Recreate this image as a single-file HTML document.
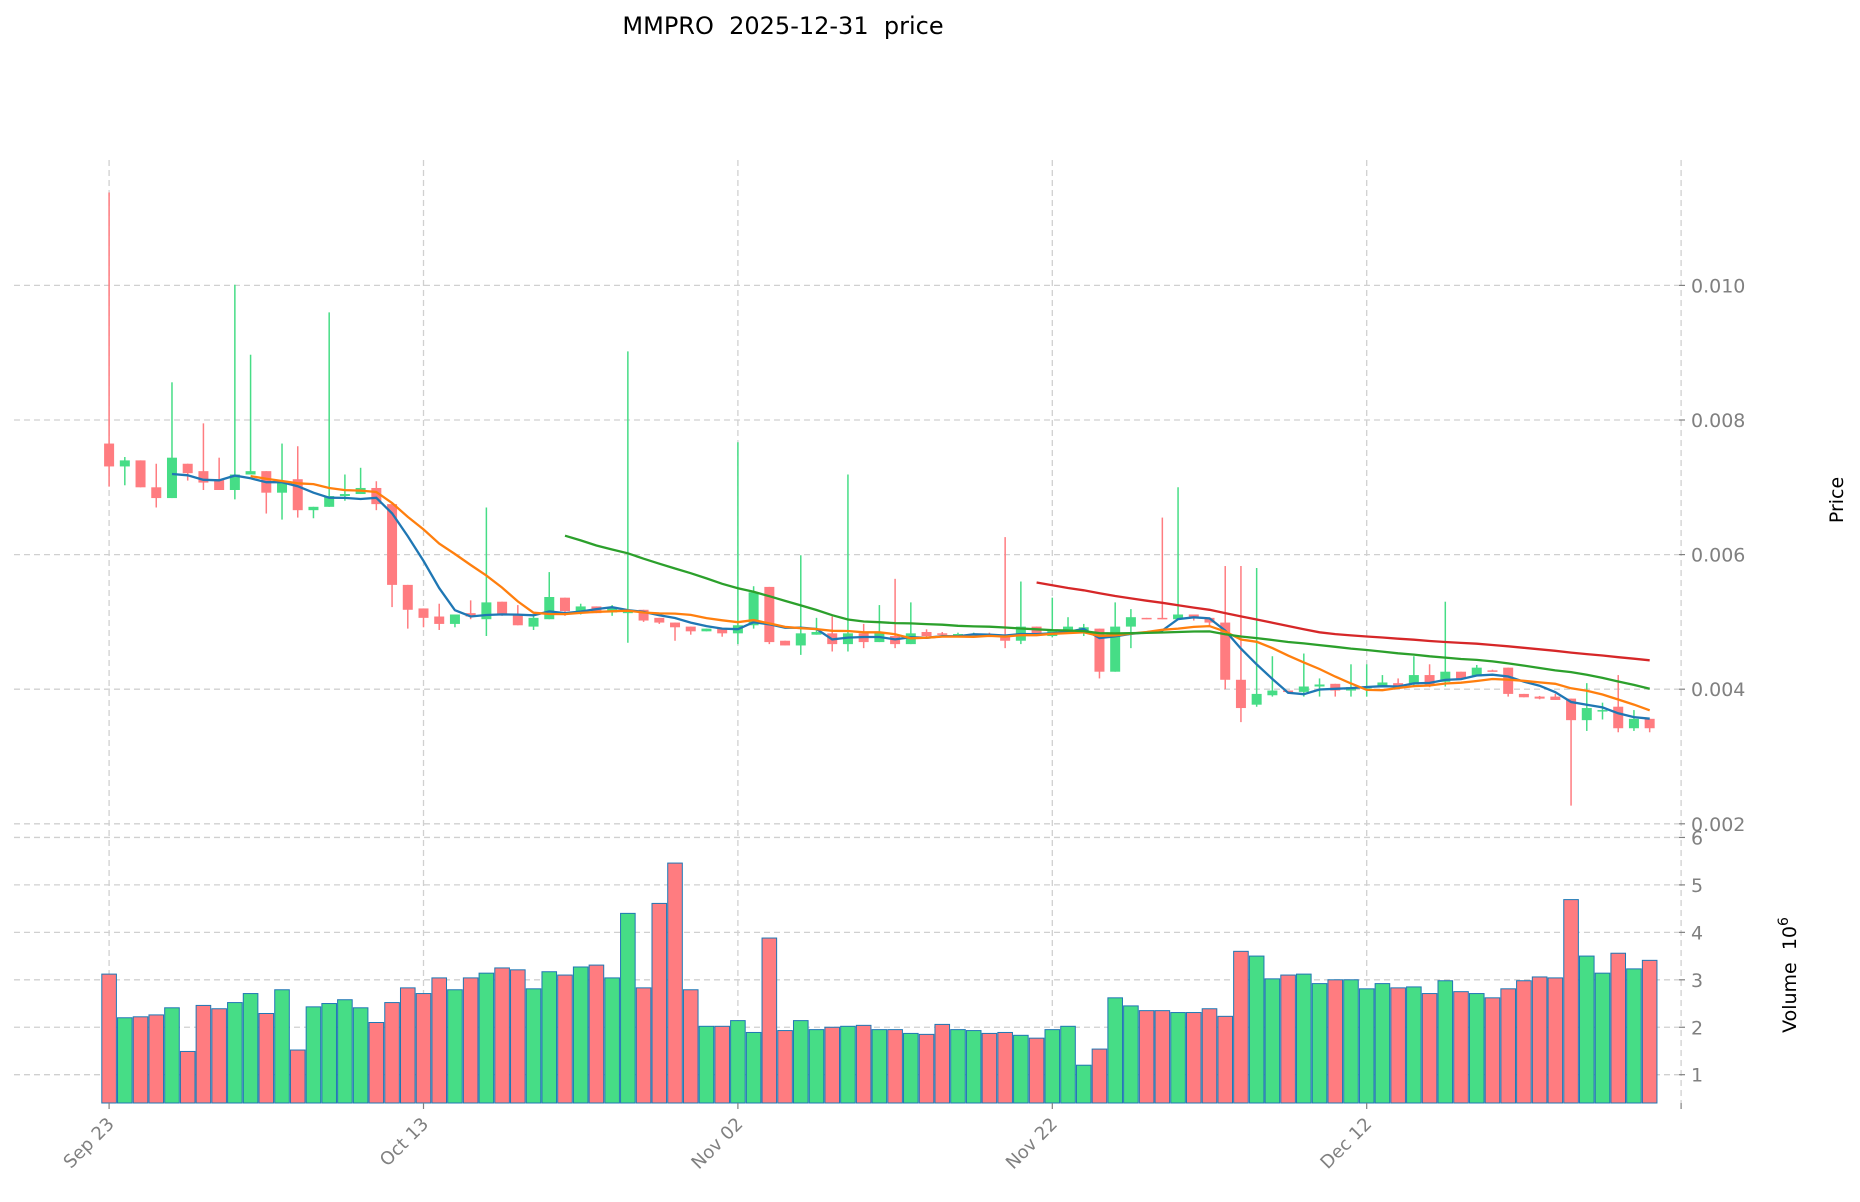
<!DOCTYPE html>
<html><head><meta charset="utf-8"><title>MMPRO price</title>
<style>
html,body{margin:0;padding:0;background:#fff;}
svg{display:block;font-family:"DejaVu Sans","Liberation Sans",sans-serif;}
</style></head>
<body>
<svg id="chart" width="1860" height="1202" viewBox="0 0 1860 1202" xmlns="http://www.w3.org/2000/svg">
<text x="783" y="34" font-size="24" text-anchor="middle" fill="#000" xml:space="preserve" style="white-space:pre">MMPRO  2025-12-31  price</text>
<g id="grid"></g>
<g id="vol"></g>
<g id="candles"></g>
<g id="mas"></g>
<g id="axes"></g>
<text transform="translate(1843,500) rotate(-90)" font-size="19" text-anchor="middle" fill="#000">Price</text>
<text transform="translate(1796,975) rotate(-90)" font-size="19" text-anchor="middle" fill="#000" xml:space="preserve" style="white-space:pre">Volume  10<tspan dy="-8" font-size="14">6</tspan></text>
</svg>
<script>
const opens  = [.00765,.00731,.00740,.00700,.00684,.00735,.00724,.00712,.00696,.00719,.00724,.00692,.00712,.00666,.00671,.00687,.00690,.00699,.00675,.00555,.00520,.00508,.00497,.00513,.00504,.00530,.00511,.00493,.00504,.00536,.00515,.00523,.00514,.00513,.00518,.00506,.00499,.00493,.00486,.00490,.00483,.00495,.00552,.00472,.00465,.00481,.00483,.00467,.00483,.00470,.00479,.00467,.00485,.00483,.00482,.00482,.00482,.00481,.00472,.00493,.00479,.00488,.00486,.00490,.00426,.00493,.00506,.00506,.00504,.00511,.00506,.00499,.00414,.00377,.00391,.00398,.00396,.00404,.00408,.00398,.00401,.00405,.00409,.00407,.00421,.00411,.00426,.00419,.00428,.00432,.00393,.00389,.00389,.00386,.00354,.00367,.00374,.00342,.00356];
const closes = [.00731,.00740,.00700,.00684,.00744,.00721,.00707,.00696,.00719,.00724,.00692,.00707,.00666,.00671,.00687,.00690,.00699,.00675,.00555,.00518,.00506,.00497,.00511,.00508,.00529,.00511,.00495,.00506,.00537,.00516,.00523,.00513,.00520,.00516,.00502,.00499,.00492,.00486,.00490,.00483,.00495,.00544,.00470,.00465,.00483,.00485,.00467,.00483,.00470,.00483,.00467,.00483,.00479,.00482,.00482,.00482,.00481,.00472,.00493,.00481,.00488,.00493,.00492,.00426,.00493,.00507,.00505,.00505,.00511,.00506,.00499,.00414,.00372,.00393,.00398,.00396,.00404,.00407,.00398,.00403,.00404,.00410,.00405,.00421,.00407,.00426,.00416,.00432,.00427,.00393,.00388,.00386,.00384,.00354,.00372,.00369,.00342,.00356,.00342];
const highs  = [.01138,.00745,.00740,.00735,.00856,.00735,.00795,.00744,.01001,.00897,.00724,.00765,.00761,.00671,.00960,.00719,.00729,.00709,.00675,.00555,.00520,.00527,.00511,.00532,.00670,.00530,.00525,.00509,.00574,.00536,.00527,.00523,.00525,.00902,.00518,.00506,.00499,.00493,.00490,.00490,.00767,.00553,.00552,.00472,.00599,.00506,.00508,.00719,.00497,.00525,.00564,.00529,.00489,.00485,.00484,.00484,.00484,.00626,.00560,.00493,.00536,.00507,.00497,.00490,.00529,.00519,.00506,.00655,.00700,.00511,.00506,.00583,.00583,.00580,.00449,.00398,.00453,.00416,.00408,.00437,.00437,.00421,.00416,.00449,.00437,.00530,.00426,.00436,.00429,.00432,.00393,.00390,.00393,.00386,.00409,.00380,.00421,.00369,.00356];
const lows   = [.00701,.00703,.00700,.00670,.00684,.00710,.00696,.00696,.00682,.00719,.00661,.00652,.00655,.00654,.00671,.00680,.00690,.00666,.00522,.00490,.00492,.00488,.00492,.00504,.00479,.00509,.00495,.00488,.00504,.00509,.00511,.00513,.00509,.00469,.00500,.00497,.00472,.00481,.00486,.00478,.00467,.00490,.00467,.00465,.00451,.00481,.00456,.00456,.00461,.00470,.00461,.00467,.00476,.00480,.00480,.00480,.00479,.00461,.00467,.00481,.00477,.00488,.00479,.00416,.00426,.00461,.00504,.00504,.00504,.00502,.00494,.00400,.00351,.00374,.00389,.00394,.00389,.00389,.00389,.00389,.00389,.00403,.00405,.00403,.00403,.00404,.00416,.00419,.00427,.00389,.00388,.00385,.00384,.00227,.00338,.00355,.00336,.00338,.00336];
const volumes = [3.12,2.20,2.22,2.26,2.41,1.49,2.46,2.39,2.52,2.71,2.29,2.79,1.52,2.43,2.50,2.58,2.41,2.10,2.52,2.83,2.71,3.04,2.79,3.04,3.14,3.25,3.21,2.81,3.17,3.10,3.27,3.31,3.04,4.40,2.83,4.61,5.46,2.79,2.02,2.02,2.14,1.89,3.88,1.93,2.14,1.95,2.00,2.02,2.04,1.95,1.95,1.87,1.85,2.06,1.95,1.93,1.87,1.89,1.83,1.77,1.95,2.02,1.20,1.54,2.62,2.45,2.35,2.35,2.31,2.31,2.39,2.23,3.60,3.50,3.02,3.10,3.12,2.92,3.00,3.00,2.81,2.92,2.83,2.85,2.71,2.98,2.75,2.71,2.62,2.81,2.98,3.06,3.04,4.69,3.50,3.14,3.56,3.23,3.41];
const xTickLabels = ["Sep 23","Oct 13","Nov 02","Nov 22","Dec 12"];
const priceTicks = [0.010,0.008,0.006,0.004,0.002];
const volTicks = [1,2,3,4,5,6];
const maPeriods = [5,10,30,60];
const maColors = ["#1f77b4","#ff7f0e","#2ca02c","#d62728"];

const NS="http://www.w3.org/2000/svg";
const X0=109.1, DX=15.72, PLEFT=14, PRIGHT=1679;
const xS=i=>X0+DX*i;
const yP=p=>689.2-(p-0.004)/0.002*134.6;
const yV=v=>1074.7-(v-1)*47.45;
const VBOT=1103, PTOP=160, PBOT=830;
const UP="#46dd86", DOWN="#ff7c80";
function mk(tag,attrs,parent){const e=document.createElementNS(NS,tag);for(const k in attrs)e.setAttribute(k,attrs[k]);parent.appendChild(e);return e;}
const grid=document.getElementById('grid'), axes=document.getElementById('axes');
priceTicks.forEach(p=>{
  const y=yP(p);
  const l=mk('line',{x1:PLEFT,x2:PRIGHT,y1:y,y2:y,stroke:"#d0d0d0","stroke-width":1.3,"stroke-dasharray":"6,4"},grid);
  
  
  mk('line',{x1:PRIGHT,x2:PRIGHT+6,y1:y,y2:y,stroke:"#808080","stroke-width":1.2},axes);
  const t=mk('text',{x:PRIGHT+12,y:y+7,"font-size":19,fill:"#808080"},axes);
  t.textContent=p.toFixed(3);
  
  
});
volTicks.forEach(v=>{
  const y=yV(v);
  const l=mk('line',{x1:PLEFT,x2:PRIGHT,y1:y,y2:y,stroke:"#d0d0d0","stroke-width":1.3,"stroke-dasharray":"6,4"},grid);
  
  
  mk('line',{x1:PRIGHT,x2:PRIGHT+6,y1:y,y2:y,stroke:"#808080","stroke-width":1.2},axes);
  const t=mk('text',{x:PRIGHT+12,y:y+7,"font-size":19,fill:"#808080"},axes);
  t.textContent=String(v);
  
  
});
for(let k=0;k<=5;k++){
  const x=xS(k*20);
  const l=mk('line',{x1:x,x2:x,y1:PTOP,y2:VBOT,stroke:"#d0d0d0","stroke-width":1.3,"stroke-dasharray":"6,4"},grid);
  
  
  mk('line',{x1:x,x2:x,y1:VBOT,y2:VBOT+6,stroke:"#808080","stroke-width":1.2},axes);
  if(k<xTickLabels.length){
    const t=mk('text',{x:x+6,y:VBOT+22,"font-size":18,fill:"#808080","text-anchor":"end",transform:`rotate(-45 ${x+6} ${VBOT+22})`},axes);
    t.textContent=xTickLabels[k];
    
    
  }
}
const vol=document.getElementById('vol');
volumes.forEach((v,i)=>{
  const up=closes[i]>=opens[i];
  const y=yV(v);
  const r=mk('rect',{x:xS(i)-7.3,y:y,width:14.6,height:VBOT-y,fill:up?UP:DOWN,stroke:"#1f77b4","stroke-width":1},vol);
  
  
});
const cg=document.getElementById('candles');
opens.forEach((o,i)=>{
  const c=closes[i], up=c>=o, col=up?UP:DOWN, x=xS(i);
  const w=mk('line',{x1:x,x2:x,y1:yP(highs[i]),y2:yP(lows[i]),stroke:col,"stroke-width":1.5},cg);
  
  
  const yt=yP(Math.max(o,c)), yb=yP(Math.min(o,c));
  const b=mk('rect',{x:x-5,y:yt,width:10,height:Math.max(yb-yt,1.5),fill:col},cg);
  
  
});
const mg=document.getElementById('mas');
maPeriods.forEach((n,k)=>{
  let pts=[];
  for(let i=n-1;i<closes.length;i++){
    let s=0;for(let j=i-n+1;j<=i;j++)s+=closes[j];
    pts.push(xS(i).toFixed(1)+","+yP(s/n).toFixed(1));
  }
  const p=mk('polyline',{points:pts.join(" "),fill:"none",stroke:maColors[k],"stroke-width":2.3},mg);
  
  
});
</script>
</body></html>
